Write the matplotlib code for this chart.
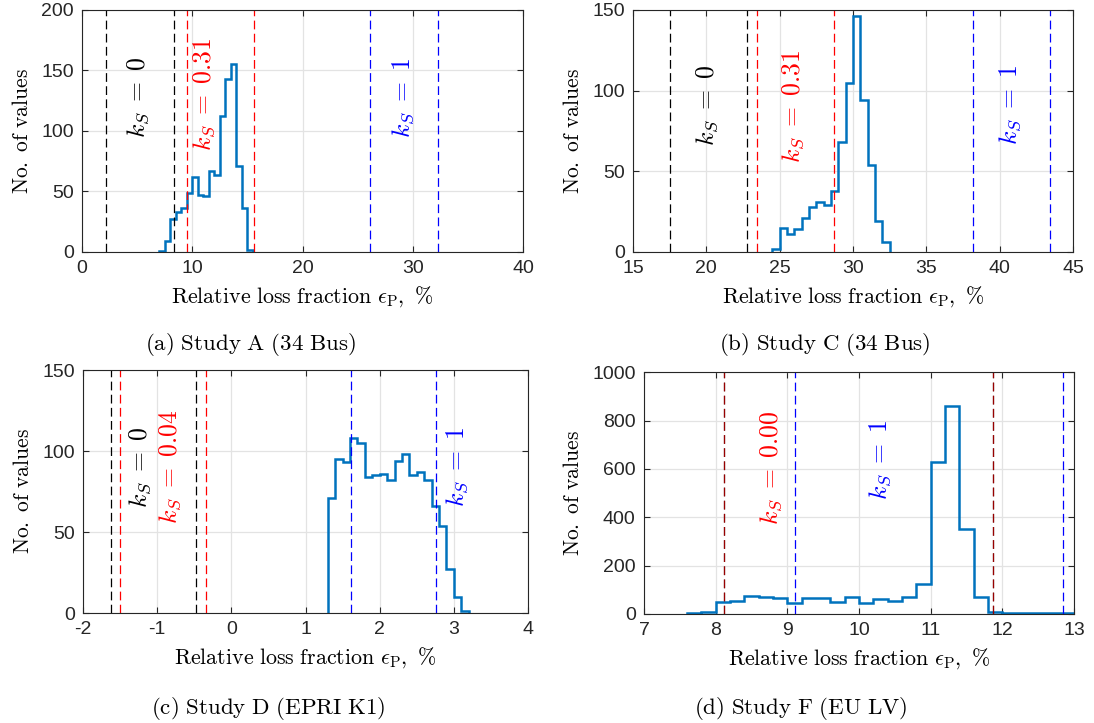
import numpy as np
import matplotlib
matplotlib.use("Agg")
import matplotlib.pyplot as plt

plt.rcParams["mathtext.fontset"] = "cm"
plt.rcParams["font.family"] = ["Liberation Sans", "DejaVu Sans"]
plt.rcParams["axes.unicode_minus"] = False

# Histogram data (counts per bin, first bin edge, bin width)
a_counts = [1, 9, 27, 33, 36, 49, 62, 47, 46, 67, 64, 112, 143, 155, 71, 36, 2]
a_start, a_width = 7.0, 0.5
b_counts = [2, 15, 11, 14, 21, 28, 31, 29, 38, 68, 105, 146, 94, 54, 19, 6]
b_start, b_width = 24.5, 0.5
c_counts = [71, 95, 93, 108, 105, 84, 85, 86, 82, 94, 98, 85, 87, 82, 66, 54, 27, 10, 1.5]
c_start, c_width = 1.3, 0.1
d_counts = [2, 10, 48, 52, 73, 69, 68, 46, 68, 65, 50, 72, 46, 62, 55, 69, 126,
            630, 862, 353, 70, 10, 3, 2, 2, 3, 4]
d_start, d_width = 7.6, 0.2

# Bound lines (k_S = 0, k_S = fitted, k_S = 1)
a_k0 = [2.15, 8.32]
a_kfit = [9.5, 15.6]
a_k1 = [26.1, 32.3]
b_k0 = [17.5, 22.77]
b_kfit = [23.43, 28.73]
b_k1 = [38.18, 43.45]
c_k0 = [-1.62, -0.474]
c_kfit = [-1.50, -0.344]
c_k1 = [1.61, 2.76]
d_k0 = [8.12, 11.87]
d_kfit = [8.12, 11.87]
d_k1 = [9.11, 12.85]

captions = ["(a) Study A (34 Bus)", "(b) Study C (34 Bus)",
            "(c) Study D (EPRI K1)", "(d) Study F (EU LV)"]
fit_labels = ["0.31", "0.31", "0.04", "0.00"]

HIST = "#0072BD"
DASH = (0, (7, 3.5))


def mrm(s):
    return r"$\mathrm{" + s.replace(" ", r"\ ").replace("%", r"\%") + "}$"


def panel(fig, rect, counts, start, width, k0, kfit, k1, xlim, ylim, xticks, yticks,
          labels, caption, caption_xy, fit_alpha=1.0):
    ax = fig.add_axes(rect)
    edges = start + width * np.arange(len(counts) + 1)
    ax.set_xlim(*xlim)
    ax.set_ylim(*ylim)
    ax.set_xticks(xticks)
    ax.set_yticks(yticks)
    ax.grid(True, color="#e3e3e3", lw=0.9)
    ax.set_axisbelow(True)
    for x in k0:
        ax.axvline(x, color="black", lw=0.9, ls=DASH)
    for x in kfit:
        ax.axvline(x, color="red", lw=0.9, ls=DASH, alpha=fit_alpha)
    for x in k1:
        ax.axvline(x, color="blue", lw=0.9, ls=DASH)
    ax.stairs(counts, edges, color=HIST, lw=1.8, baseline=0)
    for (x, y, txt, col) in labels:
        ax.text(x, y, txt, color=col, rotation=90, ha="center", va="center", fontsize=18.5)
    ax.tick_params(direction="in", top=True, right=True, labelsize=14,
                   length=4, width=0.8, colors="#262626", pad=6)
    for s in ax.spines.values():
        s.set_color("#262626")
        s.set_linewidth(0.8)
    ax.set_xlabel(mrm("Relative loss fraction ") + r"$\epsilon_{\mathrm{P}}$" + mrm(", %"),
                  fontsize=15.8, labelpad=5)
    ax.set_ylabel(mrm("No. of values"), fontsize=15.5, labelpad=6)
    fig.text(caption_xy[0], caption_xy[1], mrm(caption), fontsize=16.5,
             ha="center", va="center")
    return ax


fig = plt.figure(figsize=(10.94, 7.23), dpi=100)

ks = r"$k_S\;=\;%s$"
panel(fig, [0.0750, 0.6515, 0.4031, 0.3347], a_counts, a_start, a_width,
      a_k0, a_kfit, a_k1, (0, 40), (0, 200), [0, 10, 20, 30, 40], [0, 50, 100, 150, 200],
      [(5.1, 128, ks % "0", "black"), (11.1, 130, ks % fit_labels[0], "red"),
       (29.1, 127, ks % "1", "blue")],
      captions[0], (0.229, 0.523))

panel(fig, [0.5786, 0.6515, 0.4022, 0.3347], b_counts, b_start, b_width,
      b_k0, b_kfit, b_k1, (15, 45), (0, 150), [15, 20, 25, 30, 35, 40, 45],
      [0, 50, 100, 150],
      [(20.04, 91, ks % "0", "black"), (25.95, 90, ks % fit_labels[1], "red"),
       (40.7, 91, ks % "1", "blue")],
      captions[1], (0.754, 0.523))

panel(fig, [0.0759, 0.1521, 0.4068, 0.3361], c_counts, c_start, c_width,
      c_k0, c_kfit, c_k1, (-2, 4), (0, 150), [-2, -1, 0, 1, 2, 3, 4],
      [0, 50, 100, 150],
      [(-1.23, 90, ks % "0", "black"), (-0.82, 90, ks % fit_labels[2], "red"),
       (3.04, 90, ks % "1", "blue")],
      captions[2], (0.245, 0.02))

panel(fig, [0.5887, 0.1508, 0.3931, 0.3342], d_counts, d_start, d_width,
      d_k0, d_kfit, d_k1, (7, 13), (0, 1000), [7, 8, 9, 10, 11, 12, 13],
      [0, 200, 400, 600, 800, 1000],
      [(8.78, 605, ks % fit_labels[3], "red"), (10.29, 640, ks % "1", "blue")],
      captions[3], (0.732, 0.02), fit_alpha=0.6)

fig.savefig("out.png", dpi=100)
